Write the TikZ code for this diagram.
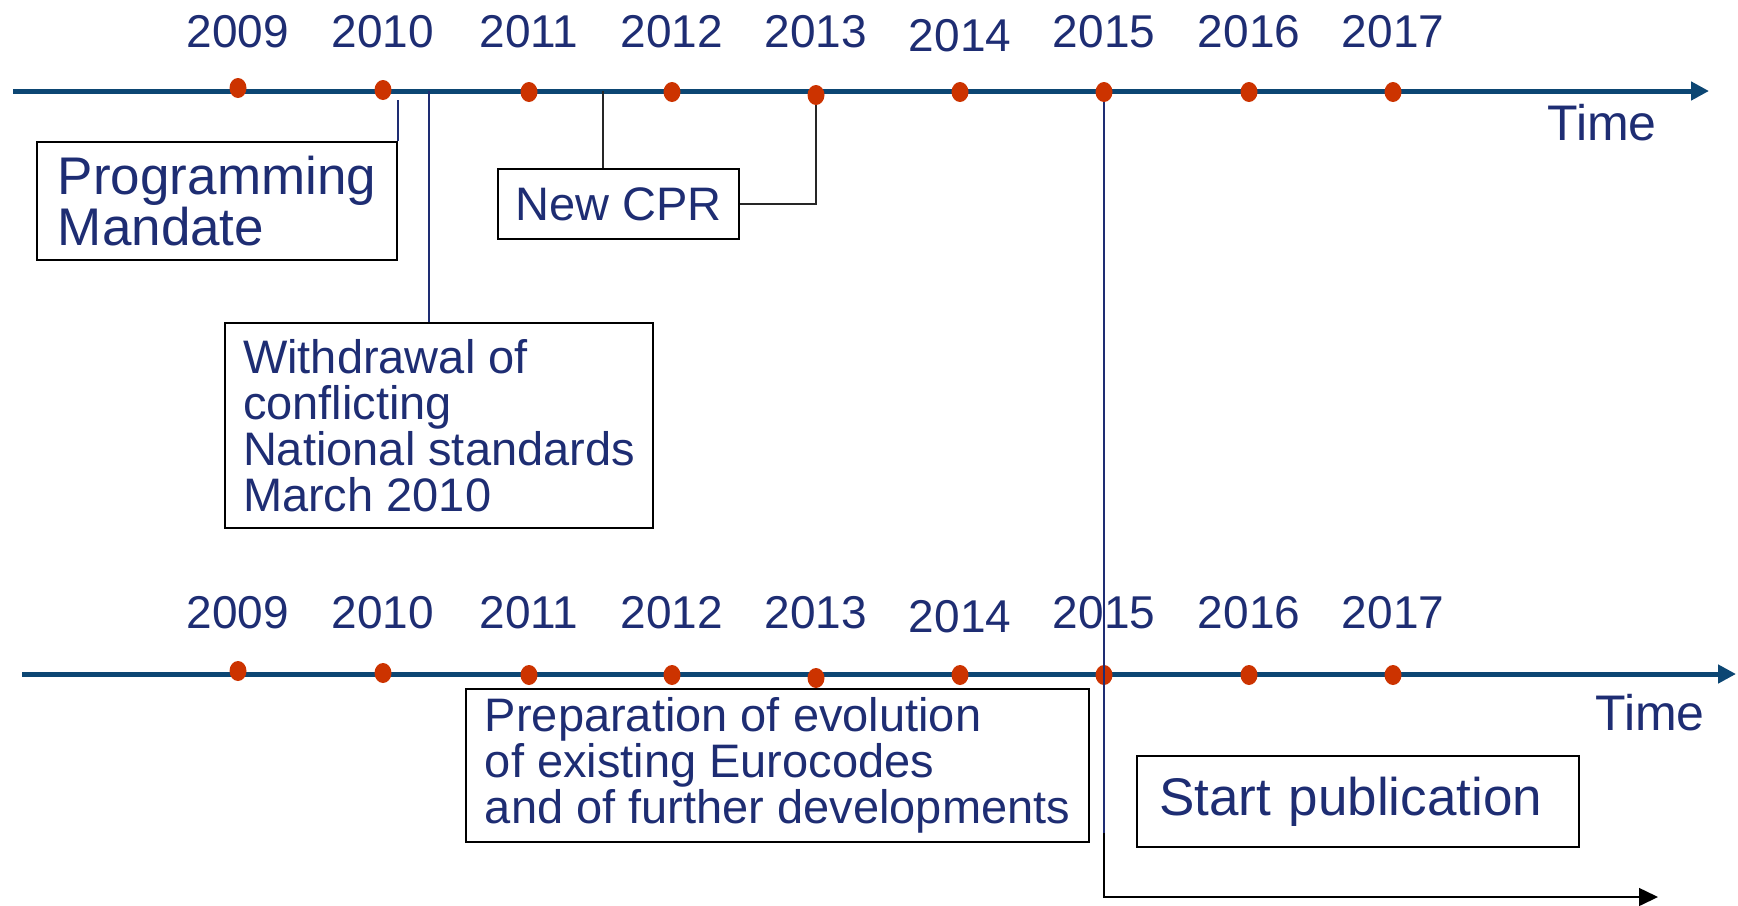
\documentclass[tikz,border=0pt]{standalone}
\usepackage{fontspec}
\setmainfont{Liberation Sans}
\usetikzlibrary{arrows.meta,shapes.geometric}

\definecolor{axisblue}{RGB}{12,70,115}
\definecolor{dotred}{RGB}{204,51,0}
\definecolor{textnavy}{RGB}{30,45,115}

\begin{document}
\begin{tikzpicture}[x=0.5pt, y=-0.5pt]
    % Styles
    \tikzstyle{axis} = [line width=2.5pt, draw=axisblue, -{Triangle[length=9pt,width=9pt]}]
    \tikzstyle{yeardot} = [ellipse, fill=dotred, inner sep=0pt, minimum width=8.5pt, minimum height=10pt]
    \tikzstyle{year} = [anchor=base, inner sep=0pt, text=textnavy, font=\fontsize{23}{23}\selectfont]
    \tikzstyle{timelabel} = [anchor=base west, inner sep=0pt, text=textnavy, font=\fontsize{25}{25}\selectfont]
    \tikzstyle{eventbox} = [draw=black, line width=1pt, align=left, text=textnavy, inner sep=2pt, font=\fontsize{23.5}{23}\selectfont]
    \tikzstyle{link} = [draw=textnavy, line width=0.75pt]

    \useasboundingbox (0,0) rectangle (1738,905);

    % Axes
    \coordinate (topstart) at (13,91);
    \coordinate (topend) at (1709,91);
    \coordinate (botstart) at (22,674);
    \coordinate (botend) at (1736,674);
    \draw[axis] (topstart) -- (topend);
    \draw[axis] (botstart) -- (botend);
    \node[timelabel] (toptime) at (1547,140) {Time};
    \node[timelabel] (bottime) at (1595,730) {Time};

    % Years and dots
    \foreach \yr/\xx/\dy/\ly in {2009/238/-3/0, 2010/383/-1/0, 2011/529/1/0, 2012/672/1/0, 2013/816/4/0,
                                 2014/960/1/4, 2015/1104/1/0, 2016/1249/1/0, 2017/1393/1/0} {
        \node[yeardot] (t\yr) at (\xx, 91+\dy) {};
        \node[yeardot] (b\yr) at (\xx, 674+\dy) {};
        \node[year] (ty\yr) at (\xx, 47+\ly) {\yr};
        \node[year] (by\yr) at (\xx, 628+\ly) {\yr};
    }

    % Event boxes
    \node[eventbox, font=\fontsize{26.5}{24}\selectfont, minimum width=180pt, minimum height=59pt]
        (prog) at (217,201) {Programming\\Mandate};
    \node[eventbox, minimum width=214pt, minimum height=102.5pt]
        (withdraw) at (439,425.5) {Withdrawal of\\conflicting\\National standards\\March 2010};
    \node[eventbox, minimum width=120.5pt, minimum height=35pt]
        (cpr) at (618.5,204) {New CPR};
    \node[eventbox, minimum width=311.5pt, minimum height=76.5pt]
        (prep) at (777.5,765.5) {Preparation of evolution\\of existing Eurocodes\\and of further developments};
    \node[eventbox, font=\fontsize{26.5}{24}\selectfont, inner xsep=11pt, text width=199pt, minimum height=45.5pt]
        (pub) at (1358,801.5) {Start publication};

    % Connectors
    \coordinate (wdtop) at (429,91);
    \coordinate (cprtop) at (603,91);
    \coordinate (split) at (1104,833);
    \coordinate (pubend) at (1658,897);
    \draw[link] (prog.north east) -- (prog.north east |- t2010.south);
    \draw[link] (wdtop) -- (wdtop |- withdraw.north);
    \draw[link, draw=black!85] (cprtop) -- (cprtop |- cpr.north);
    \draw[link, draw=black!85] (cpr.east) -| (t2013.south);
    \draw[line width=0.75pt, black, -{Triangle[length=9.5pt,width=9pt]}] (split) |- (pubend);
    \draw[link] (t2015.south) -- (split);
\end{tikzpicture}
\end{document}
